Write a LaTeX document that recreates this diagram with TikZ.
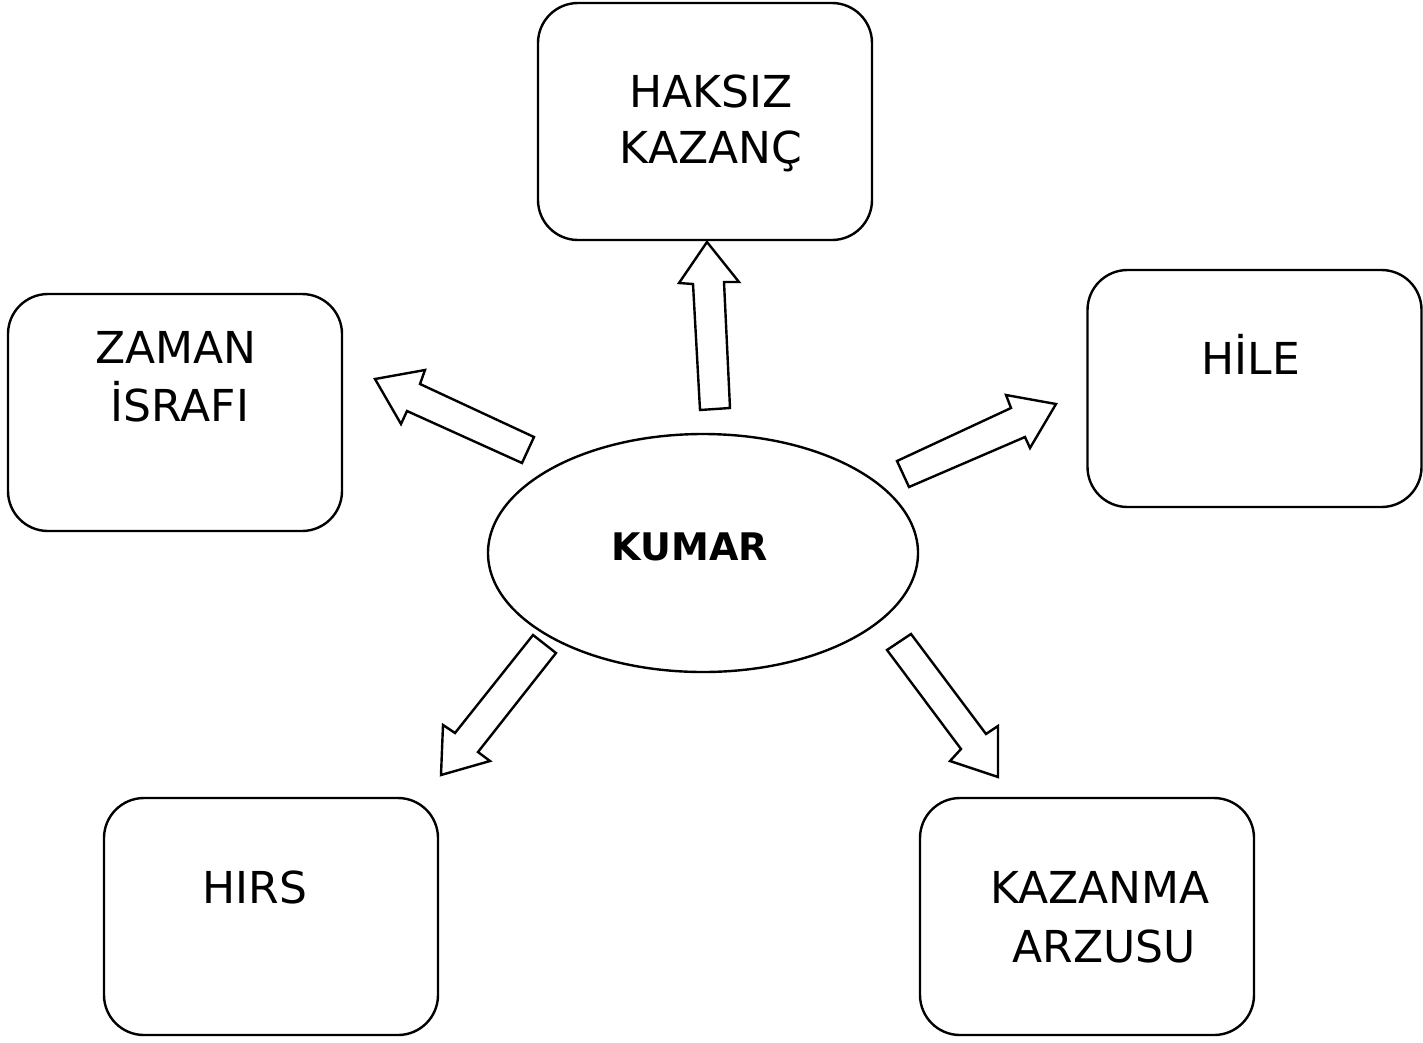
\documentclass[tikz,border=0pt]{standalone}
\usepackage{fontspec}
\setmainfont{DejaVu Sans}
\usetikzlibrary{shapes.geometric}
\tikzset{
  box/.style={draw=black, line width=2.4pt, rounded corners=40pt, minimum width=334pt, minimum height=237pt, inner sep=0pt},
  lbl/.style={anchor=base, inner sep=0pt, font=\fontsize{44}{53}\selectfont},
  hub/.style={draw=black, line width=2.4pt, ellipse, minimum width=430pt, minimum height=238pt, inner sep=0pt},
  blockarrow/.style={draw=black, fill=white, line width=2.4pt, line join=miter}
}
\begin{document}
\begin{tikzpicture}[x=1pt,y=-1pt]
\useasboundingbox (0,0) rectangle (1423,1042);
% boxes
\node[box] (haksiz) at (705,121.5) {};
\node[box] (zaman) at (175,412.5) {};
\node[box] (hile) at (1254.5,388.5) {};
\node[box] (hirs) at (271,916.5) {};
\node[box] (kazanma) at (1087,916.5) {};
\node[hub] (kumar) at (703,553) {};
% labels
\node[lbl] (t1a) at (711,107) {HAKSIZ};
\node[lbl] (t1b) at (711,163) {KAZANÇ};
\node[lbl] (t2a) at (176,363) {ZAMAN};
\node[lbl] (t2b) at (180,421) {İSRAFI};
\node[lbl] (t3) at (1251,374) {HİLE};
\node[lbl] (t4) at (255,903) {HIRS};
\node[lbl] (t5a) at (1100,903) {KAZANMA};
\node[lbl] (t5b) at (1104,962) {ARZUSU};
\node[anchor=base, inner sep=0pt, font=\fontsize{38}{46}\selectfont\bfseries] (tk) at (690,560) {KUMAR};
% block arrows
\draw[blockarrow] (700,410) -- (693,284) -- (679,283) -- (707,242) -- (739,282) -- (724,282) -- (730,408) -- cycle;
\draw[blockarrow] (522,463) -- (407,411) -- (401,424) -- (375,379) -- (425,370) -- (420,384) -- (534,437) -- cycle;
\draw[blockarrow] (897,461) -- (1011,408) -- (1006,395) -- (1056,404) -- (1030,448) -- (1025,437) -- (909,487) -- cycle;
\draw[blockarrow] (556,653) -- (478,752) -- (490,761) -- (441,775) -- (443,725) -- (455,733) -- (533,635) -- cycle;
\draw[blockarrow] (911,634) -- (986,734) -- (998,726) -- (998,777) -- (950,761) -- (961,749) -- (887,650) -- cycle;
\end{tikzpicture}
\end{document}
